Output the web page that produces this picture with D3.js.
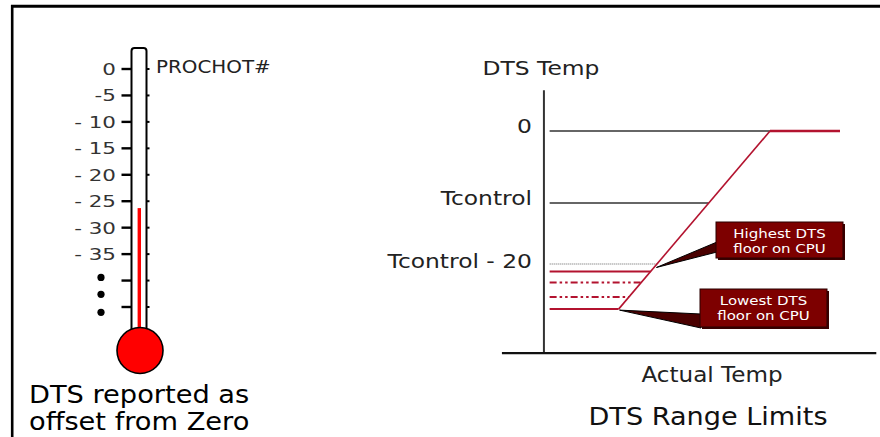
<!DOCTYPE html>
<html>
<head>
<meta charset="utf-8">
<script src="https://cdn.jsdelivr.net/npm/d3@7"></script>
<style>
  body { margin: 0; background: #fff; }
  text { font-family: "DejaVu Sans", Verdana, sans-serif; }
</style>
</head>
<body>
<script>
// thermometer (left): DTS offsets from zero
var thermoTicks = [0, -5, -10, -15, -20, -25, -30, -35, -40, -45];
var thermoLabels = ["0", "-5", "- 10", "- 15", "- 20", "- 25", "- 30", "- 35", "", ""];
var thermoReading = -26.3;
var ellipsisDots = [-39.4, -42.6, -46.0];

// range chart (right): DTS temp vs actual temp
var dtsLevelNames = ["0", "Tcontrol", "Tcontrol - 20"];
var dtsLevelValues = [0, -23.6, -43.6];
var floorValues = [-46.1, -49.7, -54.4, -58.4];
var tjmax = 0, actualEnd = 27, lineStart = -85;
var calloutHigh = ["Highest DTS", "floor on CPU"];
var calloutLow = ["Lowest DTS", "floor on CPU"];

var width = 880, height = 437;
var red = "#b3132f";

var svg = d3.select("body").append("svg")
    .attr("width", width)
    .attr("height", height);

svg.append("rect").attr("width", width).attr("height", height).attr("fill", "#fff");

// frame (top + left only)
svg.append("line").attr("x1", 11).attr("x2", width).attr("y1", 6.3).attr("y2", 6.3)
    .attr("stroke", "#000").attr("stroke-width", 3);
svg.append("line").attr("x1", 12.2).attr("x2", 12.2).attr("y1", 5).attr("y2", height)
    .attr("stroke", "#000").attr("stroke-width", 2.6);

// text helper, the source art is a bit stretched sideways
function txt(g, x, y, s, size, anchor, fill, sx) {
    return g.append("text")
        .attr("transform", "translate(" + x + "," + y + ") scale(" + sx + ",1)")
        .attr("text-anchor", anchor)
        .attr("font-size", size)
        .attr("fill", fill)
        .text(s);
}

// ---------- thermometer ----------
var yT = d3.scaleLinear().domain([0, -45]).range([69, 307]);
var thermo = svg.append("g");

thermo.append("rect")
    .attr("x", 131.5).attr("y", 48)
    .attr("width", 15).attr("height", 292)
    .attr("rx", 3)
    .attr("fill", "#fff").attr("stroke", "#000").attr("stroke-width", 2);

thermo.append("rect")
    .attr("x", 137.6).attr("y", yT(thermoReading))
    .attr("width", 3.4).attr("height", 345 - yT(thermoReading))
    .attr("fill", "#ff0000");

thermo.selectAll(".tl").data(thermoTicks).enter().append("line")
    .attr("x1", 121.5).attr("x2", 131.5)
    .attr("y1", d => yT(d)).attr("y2", d => yT(d))
    .attr("stroke", "#000").attr("stroke-width", 2.4);

thermo.selectAll(".tr").data(thermoTicks).enter().append("line")
    .attr("x1", 146.5).attr("x2", 149.5)
    .attr("y1", d => yT(d)).attr("y2", d => yT(d))
    .attr("stroke", "#000").attr("stroke-width", 2);

thermoTicks.forEach(function(d, i) {
    if (thermoLabels[i]) txt(thermo, 116, yT(d) + 6, thermoLabels[i], 16.5, "end", "#333", 1.3);
});

thermo.selectAll(".dot").data(ellipsisDots).enter().append("circle")
    .attr("cx", 101).attr("cy", d => yT(d)).attr("r", 3.6).attr("fill", "#000");

thermo.append("circle")
    .attr("cx", 140).attr("cy", 350.5).attr("r", 23)
    .attr("fill", "#ff0000").attr("stroke", "#000").attr("stroke-width", 1.6);

txt(thermo, 156, 72.5, "PROCHOT#", 17, "start", "#222", 1.17);
txt(svg, 29, 403, "DTS reported as", 25, "start", "#000", 1.09);
txt(svg, 29, 430, "offset from Zero", 25, "start", "#000", 1.09);

// ---------- DTS range chart ----------
var x = d3.scaleLinear().domain([0, 27]).range([770, 840]);
var y = d3.scaleLinear().domain([0, -60]).range([131, 314]);
var chart = svg.append("g");

// axes
chart.append("line")
    .attr("x1", x(-87.2)).attr("x2", x(-87.2))
    .attr("y1", y(13.4)).attr("y2", y(-72.8))
    .attr("stroke", "#333").attr("stroke-width", 2);
chart.append("line")
    .attr("x1", x(-103.4)).attr("x2", x(41))
    .attr("y1", y(-72.8)).attr("y2", y(-72.8))
    .attr("stroke", "#111").attr("stroke-width", 2.2);

// reference levels 0 and Tcontrol
dtsLevelValues.slice(0, 2).forEach(function(v) {
    chart.append("line")
        .attr("x1", x(lineStart)).attr("x2", x(v))
        .attr("y1", y(v)).attr("y2", y(v))
        .attr("stroke", "#333").attr("stroke-width", 1.4);
});
// Tcontrol - 20 dotted gray
chart.append("line")
    .attr("x1", x(lineStart)).attr("x2", x(dtsLevelValues[2]))
    .attr("y1", y(dtsLevelValues[2])).attr("y2", y(dtsLevelValues[2]))
    .attr("stroke", "#a8a8a8").attr("stroke-width", 1.6).attr("stroke-dasharray", "1.2,0.8");

// DTS floor lines
floorValues.forEach(function(f, i) {
    var ln = chart.append("line")
        .attr("x1", x(lineStart)).attr("x2", x(f))
        .attr("y1", y(f)).attr("y2", y(f))
        .attr("stroke", red).attr("stroke-width", 2);
    if (i == 1 || i == 2) ln.attr("stroke-dasharray", "7,3,2.5,3,2.5,3");
});

// reported DTS vs actual temp
var lowest = d3.min(floorValues);
var curve = [[lowest, lowest], [tjmax, 0], [actualEnd, 0]];
chart.append("path")
    .attr("d", d3.line().x(d => x(d[0])).y(d => y(d[1]))(curve.slice(0, 2)))
    .attr("fill", "none").attr("stroke", red).attr("stroke-width", 1.6);
chart.append("path")
    .attr("d", d3.line().x(d => x(d[0])).y(d => y(d[1]))(curve.slice(1)))
    .attr("fill", "none").attr("stroke", red).attr("stroke-width", 2.6);

// labels
dtsLevelValues.forEach(function(v, i) {
    txt(chart, 532, y(v) + (i == 2 ? 4 : 2), dtsLevelNames[i], 20, "end", "#222", 1.17);
});
txt(chart, 541, 75, "DTS Temp", 20, "middle", "#222", 1.17);
txt(chart, 712, 382, "Actual Temp", 21, "middle", "#222", 1.1);
txt(chart, 708, 425, "DTS Range Limits", 24, "middle", "#111", 1.13);

// callouts
function callout(bx, by, bw, bh, lines, tip, wedge) {
    var g = chart.append("g");
    g.append("polygon")
        .attr("points", [tip, wedge[0], wedge[1]].map(p => p.join(",")).join(" "))
        .attr("fill", "#4a0000").attr("stroke", "#000").attr("stroke-width", 1);
    g.append("rect")
        .attr("x", bx + 2).attr("y", by + 2).attr("width", bw).attr("height", bh)
        .attr("fill", "#3a0000");
    g.append("rect")
        .attr("x", bx).attr("y", by).attr("width", bw).attr("height", bh)
        .attr("fill", "#7d0000").attr("stroke", "#2a0000").attr("stroke-width", 1);
    var t = g.append("text")
        .attr("transform", "translate(" + (bx + bw / 2) + "," + (by + 16) + ") scale(1.2,1)")
        .attr("text-anchor", "middle")
        .attr("font-size", 12.5)
        .attr("fill", "#fff");
    lines.forEach(function(s, i) {
        t.append("tspan").attr("x", 0).attr("dy", i == 0 ? 0 : 14.7).text(s);
    });
}
var tipHigh = [x(dtsLevelValues[2] - 0.2), y(dtsLevelValues[2]) + 3.5];
var tipLow = [x(lowest) + 1, y(lowest) + 1];
callout(716, 222, 127, 36, calloutHigh, tipHigh, [[717, 242], [717, 252]]);
callout(700, 289, 127, 38, calloutLow, tipLow, [[701, 314], [701, 328]]);
</script>
</body>
</html>
